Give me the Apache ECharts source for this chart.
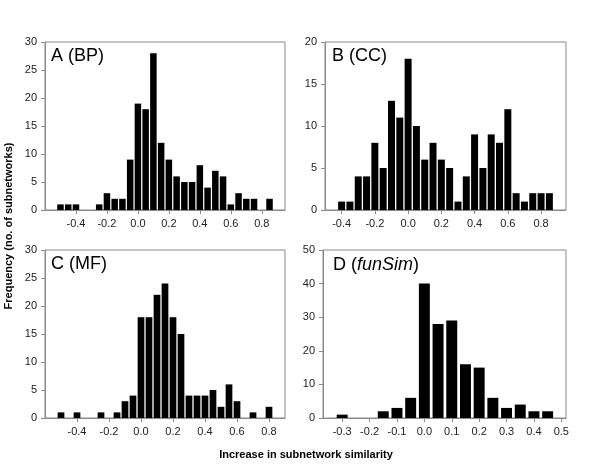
<!DOCTYPE html>
<html>
<head>
<meta charset="utf-8">
<script src="https://cdn.jsdelivr.net/npm/echarts@6/dist/echarts.min.js"></script>
<style>
html,body{margin:0;padding:0;background:#fff;}
#c{width:600px;height:464px;}
</style>
</head>
<body>
<div id="c"></div>
<script>
// ---- data ----
const centersA = [-0.5,-0.45,-0.4,-0.25,-0.2,-0.15,-0.1,-0.05,0,0.05,0.1,0.15,0.2,0.25,0.3,0.35,0.4,0.45,0.5,0.55,0.6,0.65,0.7,0.75,0.85];
const countsA  = [1,1,1,1,3,2,2,9,19,18,28,12,9,6,5,5,8,4,7,6,1,3,2,2,2];

const centersB = [-0.4,-0.35,-0.3,-0.25,-0.2,-0.15,-0.1,-0.05,0,0.05,0.1,0.15,0.2,0.25,0.3,0.35,0.4,0.45,0.5,0.55,0.6,0.65,0.7,0.75,0.8,0.85];
const countsB  = [1,1,4,4,8,5,13,11,18,10,6,8,6,5,1,4,9,5,9,8,12,2,1,2,2,2];

const centersC = [-0.5,-0.4,-0.25,-0.15,-0.1,-0.05,0,0.05,0.1,0.15,0.2,0.25,0.3,0.35,0.4,0.45,0.5,0.55,0.6,0.7,0.8];
const countsC  = [1,1,1,1,3,4,18,18,22,24,18,15,4,4,4,5,2,6,3,1,2];

const centersD = [-0.3,-0.15,-0.1,-0.05,0,0.05,0.1,0.15,0.2,0.25,0.3,0.35,0.4,0.45];
const countsD  = [1,2,3,6,40,28,29,16,15,6,3,4,2,2];

const xTicksABC = [-0.4,-0.2,0.0,0.2,0.4,0.6,0.8];
const xTicksD   = [-0.3,-0.2,-0.1,0.0,0.1,0.2,0.3,0.4,0.5];

const binWidth = 0.05;
const panelTitles = ['A (BP)', 'B (CC)', 'C (MF)', '{n|D (}{i|funSim}{n|)}'];
const xTitle = 'Increase in subnetwork similarity';
const yTitle = 'Frequency (no. of subnetworks)';

// ---- layout ----
const FONT = '"Liberation Sans", Arial, sans-serif';
const GRAY = '#8a8a8a';
const panels = [
  {c: centersA, v: countsA, ticks: xTicksABC, xmin: -0.6, xmax: 0.95, ymax: 30, yint: 5, grid:{left:45, top:42, width:240, height:168}, title:[51,47]},
  {c: centersB, v: countsB, ticks: xTicksABC, xmin: -0.5, xmax: 0.95, ymax: 20, yint: 5, grid:{left:325, top:42, width:241, height:168}, title:[332,47]},
  {c: centersC, v: countsC, ticks: xTicksABC, xmin: -0.6, xmax: 0.9, ymax: 30, yint: 5, grid:{left:45, top:250, width:240, height:168}, title:[51,255]},
  {c: centersD, v: countsD, ticks: xTicksD, xmin: -0.37, xmax: 0.517, ymax: 50, yint: 10, grid:{left:323, top:250, width:243, height:168}, title:[333,256]}
];

function fmt(v){ return (Math.round(v*10)/10).toFixed(1); }

const grids = [], xAxes = [], yAxes = [], series = [], graphics = [];
panels.forEach((p, i) => {
  grids.push(Object.assign({show:true, borderColor:GRAY, borderWidth:1, backgroundColor:'transparent'}, p.grid));
  xAxes.push({
    type:'value', gridIndex:i, min:p.xmin, max:p.xmax,
    axisLine:{show:true, onZero:false, lineStyle:{color:GRAY, width:1}},
    axisTick:{show:true, customValues:p.ticks, length:4, lineStyle:{color:GRAY}},
    axisLabel:{customValues:p.ticks, formatter:fmt, color:'#222', fontSize:11, fontFamily:FONT, margin:8},
    splitLine:{show:false}
  });
  yAxes.push({
    type:'value', gridIndex:i, min:0, max:p.ymax, interval:p.yint,
    axisLine:{show:true, onZero:false, lineStyle:{color:GRAY, width:1}},
    axisTick:{show:true, length:4, lineStyle:{color:GRAY}},
    axisLabel:{color:'#222', fontSize:11, fontFamily:FONT, margin:8},
    splitLine:{show:false}
  });
  const frac = (i === 3) ? 0.40 : 0.42;
  series.push({
    type:'custom', xAxisIndex:i, yAxisIndex:i,
    data: p.c.map((x, k) => [x, p.v[k]]),
    renderItem: function(params, api){
      const x = api.value(0), y = api.value(1);
      const a = api.coord([x - binWidth*frac, y]);
      const b = api.coord([x + binWidth*frac, 0]);
      return {type:'rect', shape:{x:a[0], y:a[1], width:b[0]-a[0], height:b[1]-a[1]}, style:{fill:'#000'}};
    }
  });
  graphics.push({
    type:'text', left:p.title[0], top:p.title[1],
    style:{
      text: panelTitles[i], fill:'#000', font:'18px ' + FONT,
      rich:{ n:{fontSize:18, fontFamily:FONT, fill:'#000'}, i:{fontSize:18, fontFamily:FONT, fontStyle:'italic', fill:'#000'} }
    }
  });
});

graphics.push({
  type:'text', x:306, y:454.5,
  style:{text:xTitle, font:'bold 11px ' + FONT, fill:'#000', textAlign:'center', textVerticalAlign:'middle'}
});
graphics.push({
  type:'text', x:8.5, y:226, rotation:Math.PI/2,
  style:{text:yTitle, font:'bold 11px ' + FONT, fill:'#000', textAlign:'center', textVerticalAlign:'middle'}
});

const chart = echarts.init(document.getElementById('c'), null, {renderer:'canvas'});
chart.setOption({
  animation:false,
  backgroundColor:'#fff',
  grid:grids, xAxis:xAxes, yAxis:yAxes, series:series,
  graphic:graphics
});
</script>
</body>
</html>
